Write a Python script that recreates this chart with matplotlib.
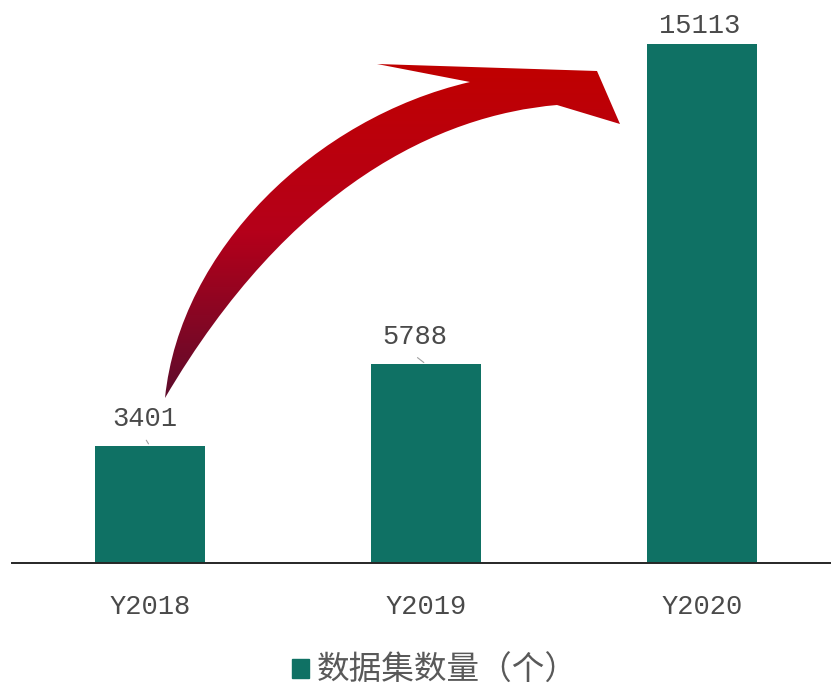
import matplotlib
matplotlib.use("Agg")
import matplotlib.pyplot as plt
import numpy as np
from matplotlib.path import Path
from matplotlib.patches import PathPatch, Patch
from matplotlib.colors import LinearSegmentedColormap

categories = ["Y2018", "Y2019", "Y2020"]
values = [3401, 5788, 15113]
legend_label = "数据集数量（个）"

BAR_COLOR = "#0f7164"
TEXT_COLOR = "#4a4a4a"
W, H = 831, 691

fig = plt.figure(figsize=(W / 100, H / 100), dpi=100)
ymax = 16000
px_per_unit = 519 / 15113
ax_h = ymax * px_per_unit
ax = fig.add_axes([12 / W, (H - 563) / H, 828 / W, ax_h / H])
x = np.arange(len(categories))
ax.bar(x, values, width=110 / 276, color=BAR_COLOR, zorder=2)
ax.set_xlim(-0.5, 2.5)
ax.set_ylim(0, ymax)
for s in ["top", "right", "left"]:
    ax.spines[s].set_visible(False)
ax.spines["bottom"].set_color("#262626")
ax.spines["bottom"].set_linewidth(1.4)
ax.set_yticks([])
ax.set_xticks(x)
ax.set_xticklabels(categories, fontsize=19.5, family="Liberation Mono", color=TEXT_COLOR)
ax.tick_params(axis="x", length=0, pad=22)

# value labels (offsets in points)
label_offsets = [(-3.6, 10.5), (-8, 10.5), (-1.5, 3.5)]
leaders = [True, True, False]
for xi, v, off, ld in zip(x, values, label_offsets, leaders):
    ax.annotate(str(v), xy=(xi, v), xytext=off, textcoords="offset points",
                ha="center", va="bottom", fontsize=19.5, family="Liberation Mono",
                color=TEXT_COLOR, annotation_clip=False)
    if ld:
        ax.annotate("", xy=(xi, v), xytext=(off[0] * 0.9 - 0.5, 6), textcoords="offset points",
                    arrowprops=dict(arrowstyle="-", color="#a0a0a0", lw=0.8))

# legend
handle = Patch(color=BAR_COLOR)
leg = fig.legend([handle], [legend_label], loc="center",
                 bbox_to_anchor=(435 / W, 1 - 671 / H), frameon=False,
                 prop={"family": ["Noto Sans CJK SC", "DejaVu Sans"], "size": 23.5},
                 handlelength=0.5, handleheight=0.5, handletextpad=0.25)
for t in leg.get_texts():
    t.set_color("#595959")

# decorative curved arrow, overlay in pixel coordinates
ov = fig.add_axes([0, 0, 1, 1])
ov.set_xlim(0, W)
ov.set_ylim(H, 0)
ov.axis("off")
ov.patch.set_alpha(0)
verts = [
    (165, 398),
    (180, 250), (315, 118), (470, 82),   # outer edge
    (377, 64), (597, 71), (620, 124), (557, 105),  # head
    (440, 115), (290, 185), (165, 398),  # inner edge
    (165, 398),
]
codes = [Path.MOVETO,
         Path.CURVE4, Path.CURVE4, Path.CURVE4,
         Path.LINETO, Path.LINETO, Path.LINETO, Path.LINETO,
         Path.CURVE4, Path.CURVE4, Path.CURVE4,
         Path.CLOSEPOLY]
path = Path(verts, codes)
patch = PathPatch(path, facecolor="none", edgecolor="none")
ov.add_patch(patch)
cmap = LinearSegmentedColormap.from_list("arr", ["#c00000", "#b5001a", "#5c0c2c"])
grad = np.linspace(0, 1, 256).reshape(-1, 1)
im = ov.imshow(grad, cmap=cmap, extent=[150, 640, 400, 62], aspect="auto",
               interpolation="bilinear", zorder=3)
im.set_clip_path(patch)

fig.savefig("out.png", dpi=100)
